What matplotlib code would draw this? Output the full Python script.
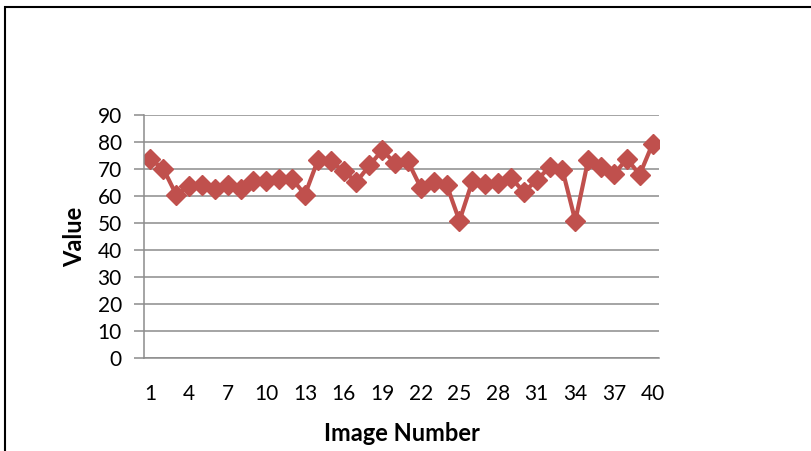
import matplotlib
matplotlib.use("Agg")
import matplotlib.pyplot as plt
from matplotlib.patches import Rectangle

plt.rcParams["font.family"] = ["Lato", "DejaVu Sans"]

image_number = list(range(1, 41))
values = [73.6, 70.1, 60.5, 63.6, 64.0, 62.7, 64.2, 62.7, 65.6, 65.4,
          66.4, 66.4, 60.5, 73.2, 72.9, 69.2, 65.2, 71.3, 76.9, 72.2,
          72.8, 63.1, 65.2, 64.2, 50.8, 65.4, 64.6, 64.8, 66.8, 61.5,
          65.8, 70.7, 69.7, 50.8, 73.4, 70.7, 68.0, 73.8, 67.9, 79.3]
y_ticks = list(range(0, 100, 10))
x_tick_labels = image_number[::3]

RED = "#C0504D"
GRID = "#8C8C8C"

fig = plt.figure(figsize=(8.11, 4.51), dpi=100)
# outer chart frame (cropped at right/bottom)
fig.patches.append(Rectangle((5 / 811, -0.2), 1.2, 1.2 - 7 / 451,
                             transform=fig.transFigure, fill=False,
                             edgecolor="black", lw=1.5))

ax = fig.add_axes([144 / 811, 1 - 358 / 451, 515 / 811, 243 / 451])
pos = list(range(len(values)))
ax.plot(pos, values, color=RED, lw=3.0, marker="D", markersize=10.5,
        markeredgecolor=RED, markerfacecolor=RED, solid_joinstyle="miter")

ax.set_xlim(-0.5, len(values) - 0.5)
ax.set_ylim(0, 90)
ax.set_yticks(y_ticks)
ax.set_xticks(pos[::3])
ax.set_xticklabels([str(v) for v in x_tick_labels])
ax.grid(True, axis="y", color=GRID, lw=1.1)
ax.set_axisbelow(True)
for s in ["top", "right"]:
    ax.spines[s].set_visible(False)
for s in ["left", "bottom"]:
    ax.spines[s].set_color(GRID)
    ax.spines[s].set_linewidth(1.1)
ax.tick_params(axis="y", length=7, width=1.1, color=GRID, labelsize=15, pad=9)
ax.tick_params(axis="x", length=0, labelsize=15, pad=19)

ax.set_xlabel("Image Number", fontsize=17, fontweight="bold", labelpad=13)
ax.set_ylabel("Value", fontsize=17, fontweight="bold", labelpad=8)

fig.savefig("out.png", dpi=100)
